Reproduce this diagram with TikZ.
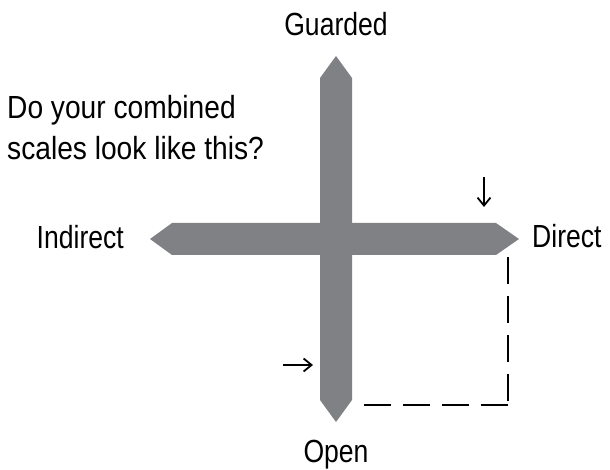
\documentclass[tikz,border=0pt]{standalone}
\usepackage{fontspec}
\usetikzlibrary{arrows.meta}
\setmainfont{Liberation Sans}[FakeStretch=0.83]
\newfontfamily\qfont{Liberation Sans}[FakeStretch=0.88]
\definecolor{bargray}{RGB}{128,129,132}
\tikzset{
  lbl/.style={inner sep=0pt, font=\fontsize{32}{38}\selectfont},
  qtext/.style={inner sep=0pt, font=\qfont\fontsize{32}{38}\selectfont},
  marker/.style={line width=1.8pt, -{Straight Barb[length=8pt,width=13pt,line width=1.8pt]}},
  bar/.style={fill=bargray, draw=none},
  dashline/.style={line width=2.5pt, dash pattern=on 27pt off 12pt}
}
\begin{document}
\begin{tikzpicture}[x=1pt,y=-1pt]
\useasboundingbox (0,0) rectangle (610,470);
% bars
\fill[bar] (320,78) -- (336,56) -- (352,78) -- (352,400) -- (336,422) -- (320,400) -- cycle;
\fill[bar] (150,239) -- (172,223) -- (496,223) -- (519,239) -- (496,255) -- (172,255) -- cycle;
% labels
\node[lbl, anchor=base] (guarded) at (336,36) {Guarded};
\node[lbl, anchor=base] (open) at (336,462) {Open};
\node[lbl, anchor=base west] (direct) at (532,248) {Direct};
\node[lbl, anchor=base east] (indirect) at (124,249) {Indirect};
\node[qtext, anchor=base west] (q1) at (7,119) {Do your combined};
\node[qtext, anchor=base west] (q2) at (7,160) {scales look like this?};
% small arrows
\coordinate (dn1) at (484,177);
\coordinate (dn2) at (484,207);
\coordinate (rt1) at (283,365);
\coordinate (rt2) at (313,365);
\draw[marker] (dn1) -- (dn2);
\draw[marker] (rt1) -- (rt2);
% dashed path
\coordinate (dtop) at (508,257);
\coordinate (dcorner) at (508,405);
\coordinate (dend) at (362,405);
\draw[dashline] (dtop) -- (dcorner);
\draw[dashline] (dcorner) -- (dend);
\end{tikzpicture}
\end{document}
